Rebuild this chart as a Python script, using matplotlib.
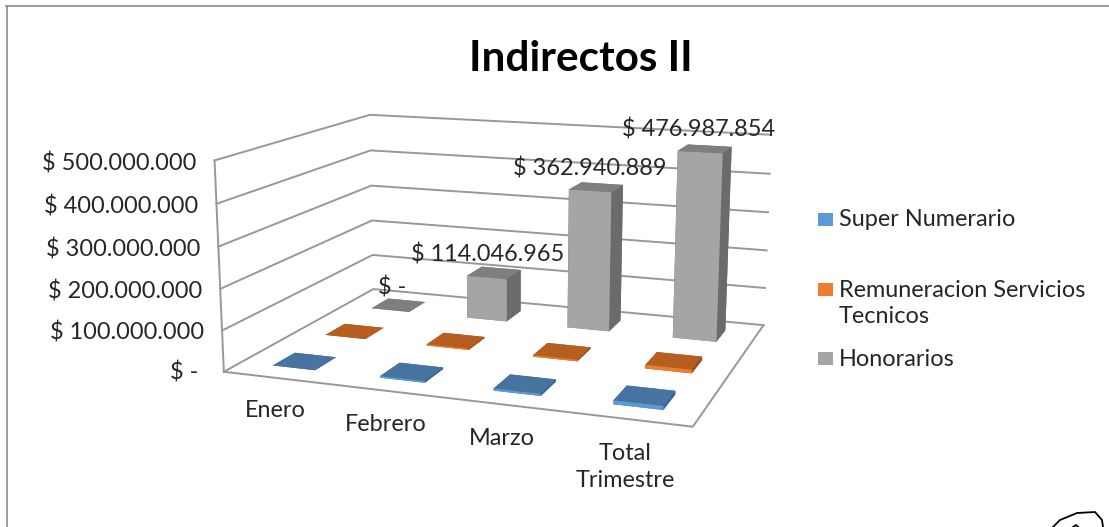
import numpy as np
import matplotlib
matplotlib.use('Agg')
import matplotlib.pyplot as plt
from matplotlib.lines import Line2D
from matplotlib.patches import Rectangle
from mpl_toolkits.mplot3d import proj3d

plt.rcParams['font.family'] = ['Lato', 'DejaVu Sans']

categorias = ['Enero', 'Febrero', 'Marzo', 'Total\nTrimestre']
series = ['Super Numerario', 'Remuneracion Servicios\nTecnicos', 'Honorarios']
super_numerario = [0, 4000000, 5000000, 9000000]
remuneracion = [0, 3000000, 4000000, 9000000]
honorarios = [0, 114046965, 362940889, 476987854]
etiquetas = ['$ -', '$ 114.046.965', '$ 362.940.889', '$ 476.987.854']
z_ticks = [0, 100000000, 200000000, 300000000, 400000000, 500000000]
z_labels = ['$ -', '$ 100.000.000', '$ 200.000.000', '$ 300.000.000', '$ 400.000.000', '$ 500.000.000']

W, H = 1109, 527
TEXT = '#262626'
GRID = '#989898'
FS = 16.9

# faces are -z, +z, -y, +y, -x, +x
colores = [
    ['#46739f', '#46739f', '#5b9bd5', '#46739f', '#3a6694', '#3a6694'],
    ['#b55e1f', '#b55e1f', '#ed7d31', '#b55e1f', '#9a4f1a', '#9a4f1a'],
    ['#7f7f7f', '#7f7f7f', '#a5a5a5', '#7f7f7f', '#6b6b6b', '#6b6b6b'],
]
leyenda = ['#5b9bd5', '#ed7d31', '#a5a5a5']


def px(x, y):
    return x / W, 1 - y / H


fig = plt.figure(figsize=(W / 100, H / 100), dpi=100)

# projection fitted to the corners of the chart box
a, tx, ty = 3184.45, 508.40, 248.59
left = tx - a * 0.095
bottom = ty + a * 0.095
side = a * 0.185
ax = fig.add_axes([left / W, (H - bottom) / H, side / W, side / H], projection='3d')
ax.set_xlim(0, 4, view_margin=0)
ax.set_ylim(0, 3, view_margin=0)
ax.set_zlim(0, 500000000, view_margin=0)
ax.set_xticks([])
ax.set_yticks([])
ax.set_zticks([])
ax.view_init(elev=12.776, azim=-70.296, roll=-0.041)
ax.set_proj_type('persp', focal_length=0.4619)
ax.set_box_aspect((1, 0.7432, 0.4480))
ax.set_axis_off()
ax.computed_zorder = False
ax.patch.set_alpha(0)


def rotulo(x, y, z, texto, **kw):
    # plain 2D text at the projected place of a 3D point
    xs, ys, _ = proj3d.proj_transform(x, y, z, ax.get_proj())
    ax.annotate(texto, (xs, ys), annotation_clip=False, color=TEXT, fontsize=FS, zorder=50, **kw)


for z in z_ticks:
    ax.plot([0, 0, 4], [0, 3, 3], [z, z, z], color=GRID, lw=1.4, zorder=1)
ax.plot([0, 0], [0, 0], [0, z_ticks[-1]], color=GRID, lw=1.4, zorder=1)
ax.plot([0, 4, 4], [0, 0, 3], [0, 0, 0], color=GRID, lw=1.4, zorder=1)

ancho = 0.4
orden = 2
for s in [2, 1, 0]:
    valores = [super_numerario, remuneracion, honorarios][s]
    for i in range(len(categorias)):
        ax.bar3d(i + 0.5 - ancho / 2, s + 0.5 - ancho / 2, 0, ancho, ancho, valores[i],
                 color=colores[s], shade=False, zorder=orden)
        orden += 1

for i in range(len(categorias)):
    rotulo(i + 0.5 - 0.06, 2.5, honorarios[i] + 48000000, etiquetas[i], ha='center', va='center')
    rotulo(i + 0.48, 0, -55000000, categorias[i], ha='center', va='top', linespacing=1.35)

for z, t in zip(z_ticks, z_labels):
    xo = -0.25 if z == 0 else -0.17
    rotulo(xo, 0, z - 10000000, t, ha='right', va='center')

fig.text(*px(581, 59), 'Indirectos II', ha='center', va='center', fontsize=30.4,
         fontweight='bold', color='black')

# legend
leyenda_y = [219, 289, 358]
texto_y = [220, 303.5, 359.5]
for nombre, c, y, ty_ in zip(series, leyenda, leyenda_y, texto_y):
    fig.add_artist(Rectangle(px(818, y + 6.5), 15 / W, 13 / H, transform=fig.transFigure,
                             facecolor=c, edgecolor='none'))
    fig.text(*px(839, ty_), nombre, ha='left', va='center',
             fontsize=FS, color=TEXT, linespacing=1.35)

# frame of the screenshot
fig.add_artist(Line2D([px(6.5, 0)[0], px(6.5, 0)[0]], [px(0, 527)[1], px(0, 5.5)[1]], color='#8c8c8c', lw=1.2))
fig.add_artist(Line2D([px(6, 0)[0], 1], [px(0, 5.5)[1], px(0, 5.5)[1]], color='#8c8c8c', lw=1.2))

# pen mark in the bottom right corner
garabato_x = [1053, 1060, 1077, 1095, 1102, 1103]
garabato_y = [527, 520, 513, 512, 520, 527]
fig.add_artist(Line2D([px(x, 0)[0] for x in garabato_x], [px(0, y)[1] for y in garabato_y], color='black', lw=1.3))
fig.add_artist(Line2D([px(1073, 0)[0], px(1076, 0)[0], px(1078, 0)[0]],
                      [px(0, 527)[1], px(0, 525)[1], px(0, 527)[1]], color='black', lw=1.3))

fig.savefig('out.png')
